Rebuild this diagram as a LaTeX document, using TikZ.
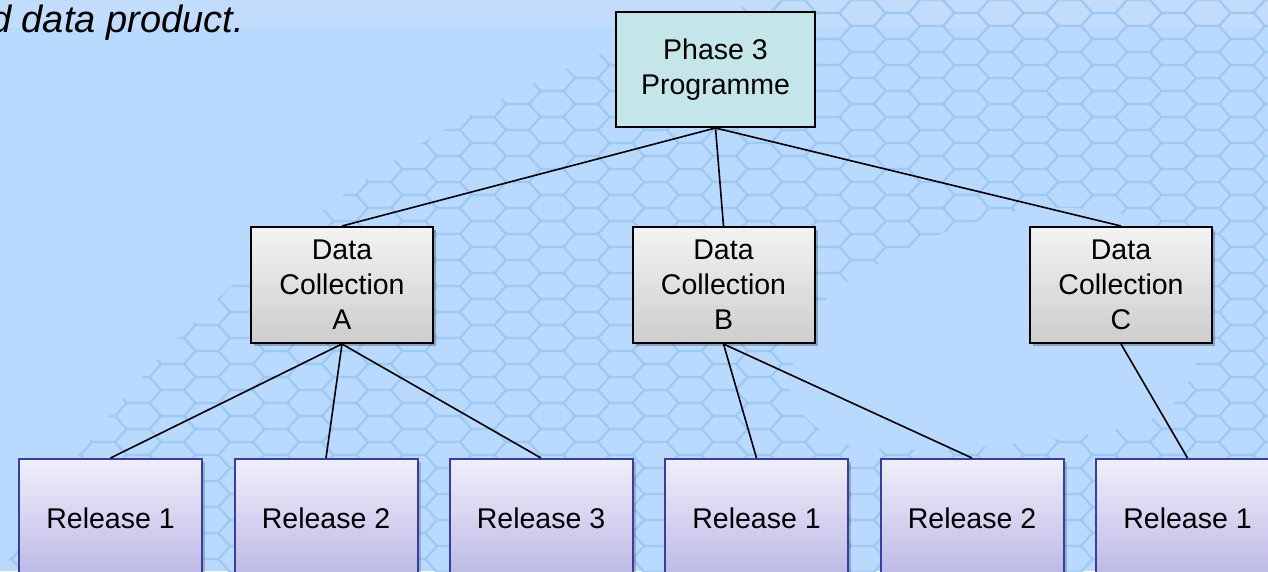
\documentclass[tikz,border=0pt]{standalone}
\usepackage{fontspec}
\setmainfont{Liberation Sans}
\usetikzlibrary{shadows}
\definecolor{bgblue}{HTML}{B9DAFE}
\definecolor{bgtop}{HTML}{C2DCFB}
\definecolor{hexcol}{HTML}{98C6F2}
\definecolor{phasefill}{HTML}{C4E6E8}
\definecolor{dctop}{HTML}{F3F3F3}
\definecolor{dcbot}{HTML}{CDCDCD}
\definecolor{reltop}{HTML}{EFEFF9}
\definecolor{relbot}{HTML}{BCB8E6}
\definecolor{relline}{HTML}{3C3C9E}
\tikzset{
  boxtext/.style={align=center,font=\fontsize{28.5}{35}\selectfont,inner sep=0pt},
  phasebox/.style={boxtext,draw=black,line width=2pt,fill=phasefill,minimum width=199pt,minimum height=115pt},
  dcbox/.style={boxtext,draw=black,line width=2pt,top color=dctop,bottom color=dcbot,minimum width=182pt,minimum height=116pt,
     drop shadow={shadow xshift=3pt,shadow yshift=-3pt,fill=black,opacity=0.25}},
  relbox/.style={boxtext,draw=relline,line width=2pt,top color=reltop,bottom color=relbot,minimum width=183pt,minimum height=118pt,
     drop shadow={shadow xshift=3pt,shadow yshift=-3pt,fill=black,opacity=0.2}},
  link/.style={draw=black,line width=1.6pt},
  hexline/.style={draw=hexcol,line width=2.2pt,line join=round}
}
\begin{document}
\begin{tikzpicture}[x=1pt,y=-1pt]
\useasboundingbox (0,0) rectangle (1268,571);
\clip (0,0) rectangle (1268,571);
% background
\fill[bgblue] (0,0) rectangle (1268,571);
\fill[bgtop] (0,0) rectangle (1268,28);
\begin{scope}[even odd rule]
  \clip (1050,1180) circle (1212)
    plot[smooth cycle] coordinates {(790,390) (825,300) (930,238) (1040,208) (1150,225) (1205,320) (1160,415) (1000,445) (850,445)};
  \foreach \i in {0,...,37}{
    \foreach \j in {0,...,23}{
      \pgfmathsetmacro{\hx}{\i*34.5}
      \pgfmathsetmacro{\hy}{\j*26+mod(\i,2)*13}
      \draw[hexline,opacity=0.6] (\hx,\hy) +(-23,0) -- +(-11.5,-13) -- +(11.5,-13) -- +(23,0) -- +(11.5,13) -- +(-11.5,13) -- cycle;
    }
  }
\end{scope}
% top text
\node[anchor=base west,inner sep=0pt,font=\fontsize{38}{44}\selectfont\itshape] (cap) at (-10,32) {d data product.};
% nodes
\node[phasebox] (ph) at (715.5,69.5) {Phase 3\\Programme};
\node[dcbox] (dca) at (342,285) {Data\\Collection\\A};
\node[dcbox] (dcb) at (723.5,285) {Data\\Collection\\B};
\node[dcbox] (dcc) at (1121,285) {Data\\Collection\\C};
\node[relbox] (ra1) at (110.5,518) {Release 1};
\node[relbox] (ra2) at (326,518) {Release 2};
\node[relbox] (ra3) at (541,518) {Release 3};
\node[relbox] (rb1) at (756.5,518) {Release 1};
\node[relbox] (rb2) at (972,518) {Release 2};
\node[relbox] (rc1) at (1187.5,518) {Release 1};
% connectors
\draw[link] (ph.south) -- (dca.north);
\draw[link] (ph.south) -- (dcb.north);
\draw[link] (ph.south) -- (dcc.north);
\draw[link] (dca.south) -- (ra1.north);
\draw[link] (dca.south) -- (ra2.north);
\draw[link] (dca.south) -- (ra3.north);
\draw[link] (dcb.south) -- (rb1.north);
\draw[link] (dcb.south) -- (rb2.north);
\draw[link] (dcc.south) -- (rc1.north);
\end{tikzpicture}
\end{document}
